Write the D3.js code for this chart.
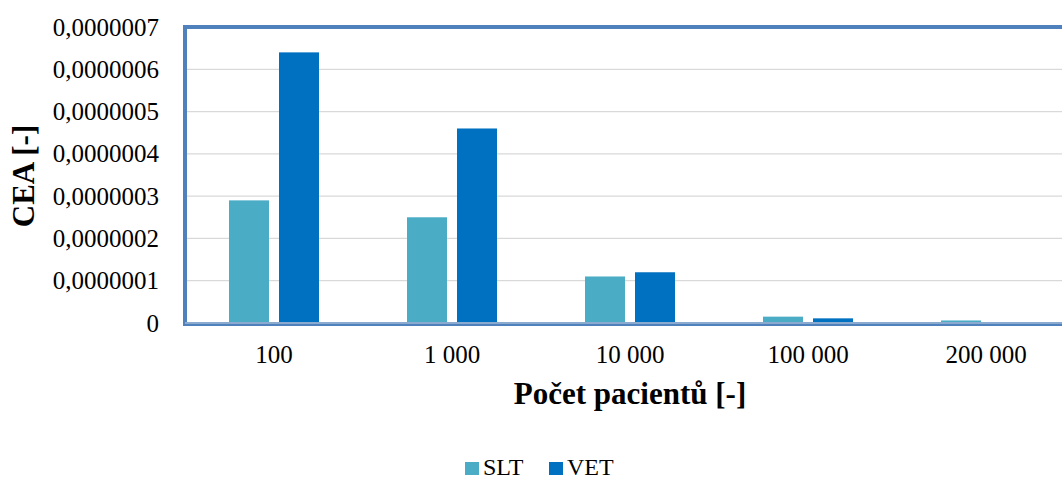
<!DOCTYPE html>
<html>
<head>
<meta charset="utf-8">
<script src="https://cdn.jsdelivr.net/npm/d3@7"></script>
<style>
  html, body { margin: 0; padding: 0; background: #fff; }
  svg { display: block; font-family: "Liberation Serif", "Times New Roman", serif; }
</style>
</head>
<body>
<svg id="chart" width="1062" height="480"></svg>
<script>
// Patient counts on the x axis
const categories = ["100", "1 000", "10 000", "100 000", "200 000"];
// CEA values per series
const slt = [0.00000029, 0.00000025, 0.00000011, 0.000000015, 0.000000006];
const vet = [0.00000064, 0.00000046, 0.00000012, 0.000000011, 0.000000002];
const seriesNames = ["SLT", "VET"];
const seriesColors = ["#4BACC6", "#0070C0"];
const yTicks = [0, 0.0000001, 0.0000002, 0.0000003, 0.0000004, 0.0000005, 0.0000006, 0.0000007];

const svg = d3.select("#chart");
const plot = { left: 185, top: 27, right: 1075, bottom: 323 };
const serif = "Liberation Serif";

const x = d3.scaleBand().domain(categories).range([plot.left, plot.right]).paddingInner(0).paddingOuter(0);
const y = d3.scaleLinear().domain([0, 0.0000007]).range([plot.bottom, plot.top]);

const fmt = v => v === 0 ? "0" : v.toFixed(7).replace(".", ",");

// Horizontal gridlines
svg.append("g")
  .selectAll("line")
  .data(yTicks.slice(1))
  .join("line")
  .attr("x1", plot.left).attr("x2", plot.right)
  .attr("y1", d => y(d)).attr("y2", d => y(d))
  .attr("stroke", "#d9d9d9").attr("stroke-width", 1.3);

// Bars
const barW = 40, gap = 10;
const rows = categories.map((c, i) => ({ c, vals: [slt[i], vet[i]] }));
const groups = svg.append("g").selectAll("g").data(rows).join("g");
groups.selectAll("rect")
  .data(d => d.vals.map((v, j) => ({ c: d.c, v, j })))
  .join("rect")
  .attr("x", d => x(d.c) + x.bandwidth() / 2 - barW - gap / 2 + d.j * (barW + gap))
  .attr("width", barW)
  .attr("y", d => y(d.v))
  .attr("height", d => y(0) - y(d.v))
  .attr("fill", d => seriesColors[d.j]);

// Plot-area border
svg.append("rect")
  .attr("x", plot.left).attr("y", plot.top)
  .attr("width", plot.right - plot.left).attr("height", plot.bottom - plot.top + 1)
  .attr("fill", "none").attr("stroke", "#4F81BD").attr("stroke-width", 4);
svg.append("line")
  .attr("x1", plot.left).attr("x2", plot.right)
  .attr("y1", plot.bottom).attr("y2", plot.bottom)
  .attr("stroke", "#c9d3e0").attr("stroke-width", 1);

// Y axis tick labels
const yAxis = d3.axisLeft(y).tickValues(yTicks).tickFormat(fmt).tickSize(0).tickPadding(26);
const gy = svg.append("g").attr("transform", `translate(${plot.left},0)`).call(yAxis);
gy.select(".domain").remove();
gy.attr("font-family", serif).attr("font-size", 25);
gy.selectAll("text").attr("fill", "#000");

// X axis tick labels
const xAxis = d3.axisBottom(x).tickSize(0).tickPadding(22);
const gx = svg.append("g").attr("transform", `translate(0,${plot.bottom})`).call(xAxis);
gx.select(".domain").remove();
gx.attr("font-family", serif).attr("font-size", 25);
gx.selectAll("text").attr("fill", "#000");

// Axis titles
svg.append("text")
  .attr("x", (plot.left + plot.right) / 2).attr("y", 404)
  .attr("text-anchor", "middle").attr("font-size", 31).attr("font-weight", "bold")
  .attr("font-family", serif)
  .text("Počet pacientů [-]");
svg.append("text")
  .attr("transform", `translate(34,176) rotate(-90)`)
  .attr("text-anchor", "middle").attr("font-size", 31).attr("font-weight", "bold")
  .attr("font-family", serif)
  .text("CEA [-]");

// Legend
const legend = svg.append("g").selectAll("g").data(seriesNames).join("g")
  .attr("transform", (d, i) => `translate(${465 + i * 84},462)`);
legend.append("rect").attr("width", 14).attr("height", 13).attr("fill", (d, i) => seriesColors[i]);
legend.append("text").attr("x", 18).attr("y", 13).attr("font-size", 24)
  .attr("font-family", serif).text(d => d);
</script>
</body>
</html>
